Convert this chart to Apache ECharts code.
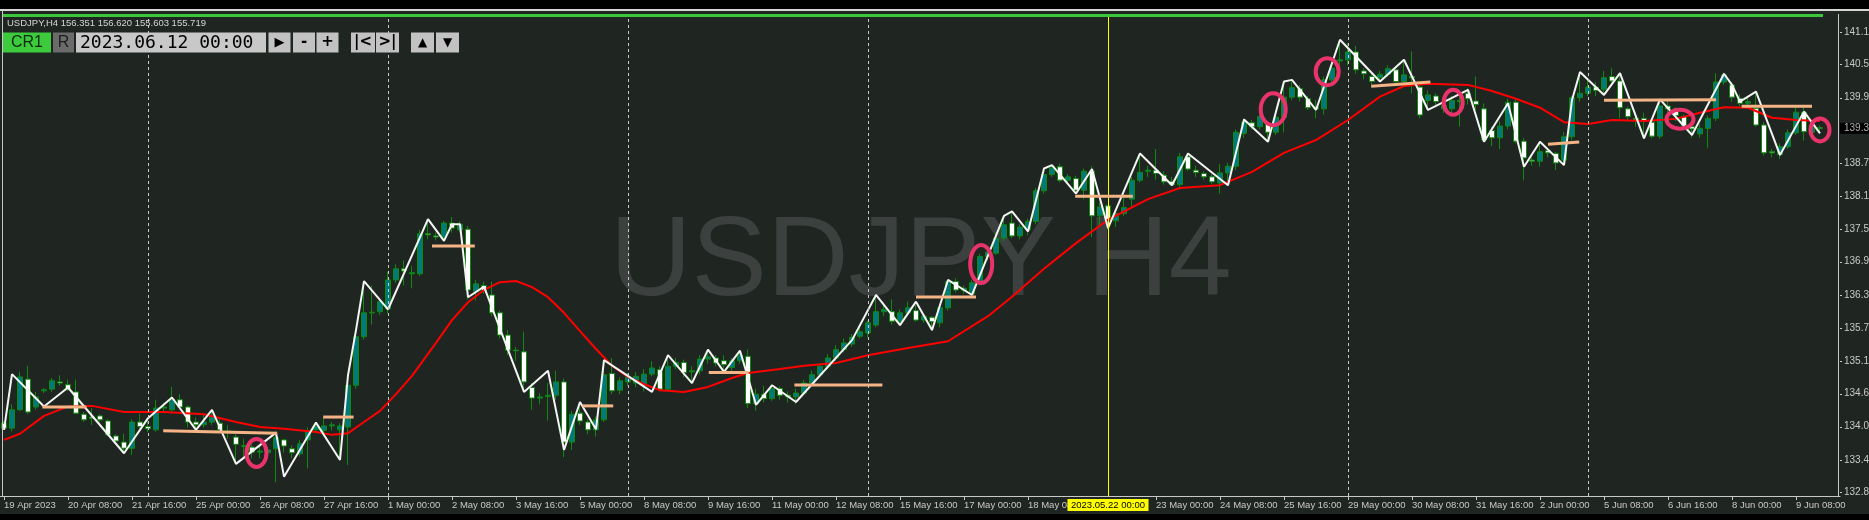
<!DOCTYPE html>
<html><head><meta charset="utf-8">
<script src="https://cdn.jsdelivr.net/npm/echarts@6/dist/echarts.min.js"></script>
<style>html,body{margin:0;padding:0;background:#000;}#c{width:1869px;height:520px;}</style>
</head><body><div id="c"></div>
<script>
// ---------- DATA ----------
const headerText = 'USDJPY,H4 156.351 156.620 155.603 155.719';
const timeField = '2023.06.12 00:00';
const watermark = 'USDJPY H4';
const cursorIdx = 138;
const cursorLabel = '2023.05.22 00:00';
const tickLabels = ['19 Apr 2023','20 Apr 08:00','21 Apr 16:00','25 Apr 00:00','26 Apr 08:00','27 Apr 16:00','1 May 00:00','2 May 08:00','3 May 16:00','5 May 00:00','8 May 08:00','9 May 16:00','11 May 00:00','12 May 08:00','15 May 16:00','17 May 00:00','18 May 08:00','','23 May 00:00','24 May 08:00','25 May 16:00','29 May 00:00','30 May 08:00','31 May 16:00','2 Jun 00:00','5 Jun 08:00','6 Jun 16:00','8 Jun 00:00','9 Jun 08:00'];
const priceTicks = [132.84,133.42,134.02,134.61,135.19,135.79,136.38,136.98,137.56,138.15,138.74,139.92,140.52,141.10];
const separators = [18,48,78,108,168,198];
// [open, close, low, high]
const candles = [
[134.08,133.99,133.96,134.12],[133.99,134.32,133.93,134.42],[134.32,134.91,134.30,135.00],[134.87,134.28,134.24,135.11],[134.37,134.55,134.32,134.64],
[134.66,134.68,134.62,134.71],[134.69,134.84,134.64,134.89],[134.82,134.80,134.75,134.94],[134.77,134.68,134.66,134.86],[134.64,134.26,134.24,134.86],
[134.24,134.14,134.10,134.28],[134.19,134.17,134.05,134.35],[134.21,134.14,134.10,134.24],[134.12,133.87,133.85,134.15],[133.85,133.76,133.73,133.88],
[133.74,133.63,133.54,133.89],[133.63,134.10,133.51,134.15],[134.10,134.02,133.98,134.25],[134.02,133.98,133.92,134.17],[133.96,134.35,133.93,134.50],
[134.35,134.37,134.28,134.45],[134.32,134.50,134.28,134.73],[134.50,134.37,134.33,134.60],[134.37,134.10,134.00,134.40],[134.10,134.05,133.96,134.18],
[134.05,134.10,134.00,134.25],[134.10,134.21,134.05,134.32],[134.08,133.96,133.93,134.15],[133.94,133.92,133.80,134.05],[133.83,133.70,133.35,133.88],
[133.66,133.68,133.45,133.80],[133.65,133.56,133.45,133.70],[133.56,133.58,133.45,133.68],[133.55,133.60,133.48,133.66],[133.62,133.82,133.02,133.93],
[133.78,133.67,133.55,133.80],[133.62,133.55,133.45,133.68],[133.53,133.71,133.48,133.78],[133.78,133.94,133.27,134.00],[133.96,134.02,133.90,134.09],
[133.95,134.03,133.90,134.19],[134.03,134.05,133.95,134.10],[133.96,134.03,133.42,134.08],[134.01,134.76,133.33,134.82],[134.76,135.63,134.70,135.70],
[135.63,136.06,135.58,136.60],[136.06,136.07,135.85,136.55],[136.08,136.26,136.02,136.30],[136.13,136.65,136.05,136.80],[136.65,136.85,136.60,136.93],
[136.85,136.81,136.55,137.00],[136.76,136.78,136.50,136.90],[136.76,137.48,136.72,137.55],[137.48,137.46,137.38,137.74],[137.44,137.42,137.36,137.50],
[137.42,137.67,137.35,137.71],[137.67,137.58,137.50,137.78],[137.55,137.65,137.50,137.70],[137.56,136.47,136.30,137.62],[136.44,136.58,136.28,136.65],
[136.55,136.46,136.40,136.62],[136.38,136.06,136.00,136.62],[136.06,135.66,135.60,136.10],[135.66,135.39,135.30,135.75],[135.39,135.38,135.20,135.45],
[135.36,134.82,134.64,135.72],[134.72,134.53,134.32,134.80],[134.53,134.55,134.42,134.62],[134.56,134.58,134.13,134.80],[134.58,134.82,134.50,135.02],
[134.82,133.74,133.47,134.88],[133.74,134.24,133.60,134.30],[134.26,134.12,134.05,134.46],[134.10,133.96,133.88,134.15],[133.96,134.14,133.84,134.20],
[134.14,134.95,134.10,135.21],[134.97,134.66,134.60,135.25],[134.67,134.84,134.60,134.90],[134.82,134.90,134.75,134.98],[134.80,134.92,134.72,135.00],
[134.76,134.96,134.65,135.05],[134.96,135.07,134.92,135.19],[135.04,134.69,134.65,135.10],[134.69,135.10,134.65,135.30],[135.10,135.17,135.05,135.25],
[135.17,134.99,134.90,135.22],[135.00,135.02,134.80,135.10],[135.02,135.23,134.95,135.30],[135.23,135.27,135.15,135.41],[135.25,135.16,135.10,135.30],
[135.20,135.13,135.00,135.30],[135.08,135.20,135.00,135.25],[135.20,135.30,135.15,135.38],[135.28,134.43,134.35,135.40],[134.43,134.60,134.30,134.70],
[134.60,134.52,134.45,134.75],[134.52,134.70,134.48,134.78],[134.70,134.58,134.50,134.74],[134.58,134.55,134.45,134.65],[134.55,134.62,134.42,134.70],
[134.62,134.80,134.58,134.86],[134.80,134.95,134.75,135.02],[134.95,135.10,134.90,135.15],[135.10,135.25,135.05,135.32],[135.25,135.40,135.20,135.48],
[135.40,135.52,135.35,135.60],[135.50,135.62,135.45,135.68],[135.64,135.72,135.60,135.80],[135.70,135.88,135.62,135.92],[135.84,136.08,135.80,136.38],
[136.08,136.12,136.00,136.25],[136.08,135.91,135.85,136.30],[135.91,136.06,135.84,136.12],[136.06,136.15,136.00,136.26],[136.10,135.93,135.90,136.20],
[135.93,136.00,135.88,136.05],[135.98,135.90,135.75,136.00],[135.88,136.15,135.80,136.20],[136.15,136.62,136.10,136.65],[136.62,136.47,136.42,136.68],
[136.46,136.50,136.40,136.55],[136.40,136.60,136.35,136.65],[136.60,137.07,136.55,137.12],[137.07,137.15,137.00,137.25],[137.13,137.40,137.10,137.50],
[137.40,137.64,137.35,137.80],[137.67,137.44,137.40,137.88],[137.44,137.60,137.38,137.65],[137.55,137.70,137.45,137.75],[137.70,138.25,137.65,138.30],
[138.25,138.54,138.20,138.65],[138.54,138.66,138.50,138.72],[138.68,138.44,138.40,138.74],[138.44,138.50,138.38,138.55],[138.47,138.26,138.20,138.52],
[138.26,138.60,138.10,138.65],[138.60,137.80,137.42,138.69],[137.80,137.96,137.60,138.05],[137.98,137.73,137.55,138.00],[137.71,137.84,137.60,137.90],
[137.84,137.95,137.80,138.13],[138.10,138.44,137.95,138.50],[138.44,138.58,138.40,138.92],[138.60,138.62,138.50,138.70],[138.62,138.56,138.45,139.00],
[138.53,138.41,138.36,138.60],[138.42,138.36,138.34,138.50],[138.36,138.86,138.32,138.93],[138.86,138.64,138.60,138.93],[138.62,138.58,138.50,138.70],
[138.56,138.50,138.45,138.60],[138.50,138.41,138.36,138.55],[138.39,138.57,138.20,138.73],[138.57,138.69,138.36,138.75],[138.69,139.30,138.62,139.35],
[139.28,139.48,139.20,139.55],[139.47,139.40,139.35,139.52],[139.40,139.58,139.35,139.62],[139.45,139.30,139.13,139.50],[139.30,139.57,139.25,139.65],
[139.57,139.93,139.30,140.21],[139.93,140.10,139.88,140.21],[140.08,139.93,139.85,140.15],[139.90,139.74,139.70,139.95],[139.75,139.72,139.55,139.88],
[139.72,140.24,139.62,140.30],[140.24,140.45,140.15,140.50],[140.58,140.60,140.50,140.96],[140.60,140.74,140.50,140.90],[140.74,140.42,140.35,140.85],
[140.40,140.35,140.25,140.45],[140.30,140.21,140.15,140.35],[140.28,140.34,140.20,140.40],[140.34,140.44,140.30,140.50],[140.42,140.21,140.15,140.48],
[140.21,140.33,140.15,140.60],[140.30,140.28,140.00,140.75],[140.11,139.61,139.55,140.20],[139.87,139.97,139.75,140.05],[139.95,139.85,139.75,140.00],
[139.72,139.78,139.65,139.85],[139.72,139.87,139.60,139.95],[139.87,139.85,139.40,140.05],[140.00,139.90,139.80,140.09],[139.86,139.80,139.70,140.30],
[139.72,139.16,139.13,139.82],[139.33,139.20,139.05,139.40],[139.20,139.41,139.00,139.50],[139.41,139.84,139.35,139.90],[139.84,139.14,139.10,139.90],
[139.14,138.84,138.44,139.20],[138.80,138.78,138.70,138.85],[138.78,138.95,138.68,139.13],[138.97,138.93,138.85,139.00],[138.92,138.75,138.62,138.95],
[138.80,139.22,138.70,139.30],[139.22,139.92,139.15,139.95],[139.92,140.00,139.85,140.38],[140.00,140.11,139.95,140.24],[140.11,140.05,139.95,140.20],
[140.07,140.28,139.97,140.40],[140.30,140.22,140.15,140.45],[140.22,139.74,139.55,140.36],[139.72,139.58,139.50,139.76],[139.55,139.53,139.40,139.65],
[139.55,139.50,139.25,139.65],[139.48,139.23,139.19,139.55],[139.23,139.77,139.18,139.90],[139.77,139.72,139.60,139.88],[139.72,139.60,139.50,139.75],
[139.58,139.42,139.35,139.62],[139.40,139.36,139.20,139.45],[139.27,139.37,139.20,139.45],[139.37,139.55,139.02,139.60],[139.55,140.20,139.50,140.36],
[140.20,140.33,140.15,140.37],[140.15,139.93,139.85,140.20],[139.91,139.82,139.75,139.98],[139.82,139.85,139.75,139.95],[139.73,139.43,139.40,140.02],
[139.43,138.93,138.88,139.48],[138.95,138.93,138.85,139.00],[138.90,139.04,138.82,139.10],[139.04,139.29,139.00,139.35],[139.29,139.66,139.25,139.75],
[139.66,139.31,139.15,139.75],[139.30,139.38,139.25,139.45],[139.38,139.37,139.30,139.42]
];
// moving average (red)
const maIdx = [0,2,5,8,11,15,20,25,29,32,35,39,41,43,45,47,49,51,54,56,58,60,62,64,66,68,70,72,74,76,78,80,82,85,88,91,93,97,100,104,108,113,118,123,126,130,134,138,143,147,152,156,160,164,168,172,175,178,183,186,189,192,195,198,201,205,209,212,215,218,221,224,227];
const maVal = [133.78,133.89,134.21,134.38,134.39,134.28,134.28,134.24,134.10,134.01,133.98,133.92,133.87,133.90,134.10,134.30,134.60,134.93,135.52,135.93,136.25,136.47,136.61,136.63,136.52,136.34,136.06,135.73,135.41,135.11,134.91,134.78,134.67,134.64,134.73,134.89,134.98,135.05,135.11,135.16,135.30,135.43,135.55,136.00,136.35,136.85,137.31,137.73,138.10,138.30,138.35,138.59,138.93,139.16,139.52,139.94,140.13,140.17,140.15,140.04,139.90,139.74,139.48,139.45,139.52,139.50,139.54,139.65,139.75,139.74,139.56,139.52,139.50];
// zigzag (white)
const zzIdx = [0,1,5,8,15,18,21,24,26,29,34,35,39,42,43,44,45,48,53,55,56,57,58,60,65,68,70,72,74,75,81,83,86,88,90,92,94,96,99,106,109,112,114,116,118,121,125,126,128,130,131,134,136,138,142,146,148,153,155,158,160,161,164,167,172,175,178,183,185,188,190,192,195,196,197,200,202,205,207,211,215,216,217,219,222,225,227];
const zzVal = [133.96,134.96,134.38,134.72,133.54,134.17,134.54,133.96,134.32,133.35,133.91,133.12,134.09,133.42,134.94,135.75,136.63,136.12,137.74,137.35,137.65,137.65,136.34,136.53,134.64,135.02,133.60,134.46,133.97,135.21,134.64,135.30,134.80,135.40,135.00,135.38,134.41,134.76,134.46,135.57,136.38,135.84,136.26,135.75,136.65,136.38,137.80,137.88,137.52,138.65,138.71,138.20,138.64,137.58,138.92,138.35,138.92,138.35,139.53,139.13,140.21,140.24,139.70,140.96,140.21,140.60,139.70,140.06,139.13,139.82,138.68,139.13,138.71,139.88,140.38,139.97,140.36,139.19,139.89,139.25,140.35,140.15,139.85,140.03,138.89,139.67,139.28];
// level segments (orange): [startIdx, startPrice, endIdx, endPrice]
const levels = [[4.8,134.37,10.3,134.37],[19.9,133.945,34.15,133.90],[39.9,134.19,43.7,134.19],[53.5,137.26,58.85,137.26],[72.3,134.39,76.15,134.39],[88.1,134.99,93.1,134.99],[98.8,134.765,109.8,134.765],[114.0,136.344,121.5,136.344],[133.9,138.15,141.1,138.15],[170.9,140.125,178.3,140.202],[193.0,139.085,196.9,139.125],[200.0,139.874,214.0,139.885],[217.2,139.766,226.0,139.766]];
// marked points (pink ellipses): [index, price]
const marks = [[31.56,133.545],[122.15,136.937],[158.65,139.712],[165.4,140.387],[181.15,139.838],[209.5,139.533],[227.0,139.341]];
const markRadii = [[10,14],[11,19],[12.5,16],[11.5,13.5],[9.5,12.5],[13.5,9.5],[9.5,11.5]];

// ---------- CHART ----------
const N = 230;
const categories = [];
for (let i = 0; i < N; i++) categories.push(i % 8 === 0 && tickLabels[i / 8] !== undefined ? tickLabels[i / 8] : '');
const FONT = '"Liberation Sans", Arial, sans-serif';
const AX = '#c8c8c8';

function pt(api, i, p) {
  const f = Math.floor(i);
  const c = api.coord([f, p]);
  const bw = api.size([1, 0])[0];
  return [c[0] + (i - f) * bw, c[1]];
}

const chart = echarts.init(document.getElementById('c'), null, {renderer: 'canvas'});
const option = {
  animation: false,
  backgroundColor: '#1f2622',
  grid: {left: 0, right: 29, top: 17, bottom: 24, containLabel: false},
  xAxis: {
    type: 'category', data: categories, boundaryGap: true,
    axisLine: {show: true, lineStyle: {color: AX, width: 1}},
    axisTick: {show: true, alignWithLabel: true, length: 4, interval: (i, v) => v !== '', lineStyle: {color: AX}},
    axisLabel: {interval: (i, v) => v !== '', align: 'left', margin: 4, color: AX, fontSize: 9.5, fontFamily: FONT},
    splitLine: {show: false}
  },
  yAxis: {
    type: 'value', position: 'right', min: 132.773, max: 141.368,
    axisLine: {show: false}, splitLine: {show: false},
    axisTick: {show: false}, axisLabel: {show: false}
  },
  series: [
    {
      type: 'candlestick', data: candles, barWidth: 5, z: 2,
      itemStyle: {color: '#007a78', color0: '#ffffff', borderColor: '#0e8a0e', borderColor0: '#0e8a0e', borderWidth: 1},
      markLine: {
        silent: true, symbol: ['none', 'none'], label: {show: false}, animation: false,
        data: separators.map(i => ({xAxis: i, lineStyle: {type: [3, 3], color: '#c8c8c8', width: 1}}))
          .concat([{xAxis: cursorIdx, lineStyle: {type: 'solid', color: '#ffff00', width: 1}}])
      }
    },
    {
      type: 'line', data: maIdx.map((i, k) => [i, maVal[k]]), showSymbol: false, z: 3,
      lineStyle: {color: '#ff0000', width: 2}
    },
    {
      type: 'line', data: zzIdx.map((i, k) => [i, zzVal[k]]), showSymbol: false, z: 4,
      lineStyle: {color: '#f4f4f4', width: 2}
    },
    {
      type: 'custom', z: 5, clip: false, data: levels.map((r, k) => [k]),
      renderItem: (params, api) => {
        const r = levels[params.dataIndex];
        const a = pt(api, r[0], r[1]), b = pt(api, r[2], r[3]);
        return {type: 'line', shape: {x1: a[0], y1: a[1], x2: b[0], y2: b[1]}, style: {stroke: '#f5b485', lineWidth: 3}};
      }
    },
    {
      type: 'custom', z: 6, clip: false, data: marks.map((r, k) => [k]),
      renderItem: (params, api) => {
        const r = marks[params.dataIndex], rad = markRadii[params.dataIndex];
        const c = pt(api, r[0], r[1]);
        return {type: 'ellipse', shape: {cx: c[0], cy: c[1], rx: rad[0], ry: rad[1]}, style: {fill: 'none', stroke: '#e8336b', lineWidth: 4}};
      }
    }
  ]
};
chart.setOption(option);

// ---------- DECORATIONS ----------
const cx = chart.convertToPixel({xAxisIndex: 0}, cursorIdx);
const lastClose = candles[candles.length - 1][1];
const py = chart.convertToPixel({yAxisIndex: 0}, lastClose);

function txt(x, y, s, font, fill, align) {
  return {type: 'text', x: x, y: y, z: 20,
    style: {text: s, font: font, fill: fill, align: align || 'left', textAlign: align || 'left', verticalAlign: 'middle', textVerticalAlign: 'middle'}};
}
function rect(x, y, w, h, fill, z, stroke) {
  return {type: 'rect', z: z || 20, shape: {x: x, y: y, width: w, height: h}, style: {fill: fill, stroke: stroke || null, lineWidth: stroke ? 1 : 0}};
}
const btnFill = '#c2c2c2';
const g = [
  rect(0, 0, 1869, 9, '#000000'),
  rect(0, 9, 1869, 2, '#d6d6d6'),
  rect(2, 14, 1821, 3, '#3cc83c'),
  rect(2, 11, 1, 485, '#c8c8c8'),
  rect(1838, 14, 1, 482, '#c8c8c8'),
  rect(0, 514, 1869, 6, '#000000'),
  {type: 'text', x: 610, y: 264, z: 1, silent: true,
    style: {text: watermark, font: '113px "Liberation Sans", Arial, sans-serif', fill: '#3c4140', align: 'left', textAlign: 'left', verticalAlign: 'middle', textVerticalAlign: 'middle'}},
  txt(7, 23, headerText, '9.5px ' + FONT, '#d4d4d4'),
  rect(3, 32.5, 48, 20, '#3dcb3d'),
  txt(27, 43, 'CR1', '16px ' + FONT, '#0b2a0b', 'center'),
  rect(53, 32.5, 21, 20, '#6b6b6b'),
  txt(63.5, 43, 'R', '16px ' + FONT, '#1c1c1c', 'center'),
  rect(76, 32.5, 190, 20, '#c8c8c8'),
  txt(80, 43, timeField, '18px "DejaVu Sans Mono", monospace', '#000000'),
  rect(268.5, 32.5, 22, 20, btnFill), txt(279.5, 42.5, '▶', '13px "DejaVu Sans"', '#000000', 'center'),
  rect(293, 32.5, 22, 20, btnFill), txt(304, 42.5, '-', 'bold 15px "DejaVu Sans"', '#000000', 'center'),
  rect(316.5, 32.5, 22, 20, btnFill), txt(327.5, 42.5, '+', 'bold 15px "DejaVu Sans"', '#000000', 'center'),
  rect(351, 32.5, 24, 20, btnFill), txt(363, 42.5, '|<', 'bold 15px "DejaVu Sans"', '#000000', 'center'),
  rect(376, 32.5, 23, 20, btnFill), txt(387.5, 42.5, '>|', 'bold 15px "DejaVu Sans"', '#000000', 'center'),
  rect(411, 32.5, 23, 20, btnFill), txt(422.5, 42.5, '▲', '12px "DejaVu Sans"', '#000000', 'center'),
  rect(436, 32.5, 23, 20, btnFill), txt(447.5, 42.5, '▼', '12px "DejaVu Sans"', '#000000', 'center'),
  rect(cx - 40.5, 499, 81, 12, '#ffff00'),
  txt(cx, 505, cursorLabel, '9.5px ' + FONT, '#000000', 'center')
];
// price scale labels placed through the y axis scale
priceTicks.forEach(v => {
  const y = chart.convertToPixel({yAxisIndex: 0}, v);
  g.push(rect(1840, Math.round(y), 2, 1, AX));
  g.push(txt(1844, y, v.toFixed(2), '10px ' + FONT, AX));
});
g.push(rect(1840, py - 5.5, 29, 11, '#000000'));
g.push(txt(1844, py, lastClose.toFixed(2), '10px ' + FONT, '#b0b0b0'));
chart.setOption({graphic: {elements: g}});
</script>
</body></html>
